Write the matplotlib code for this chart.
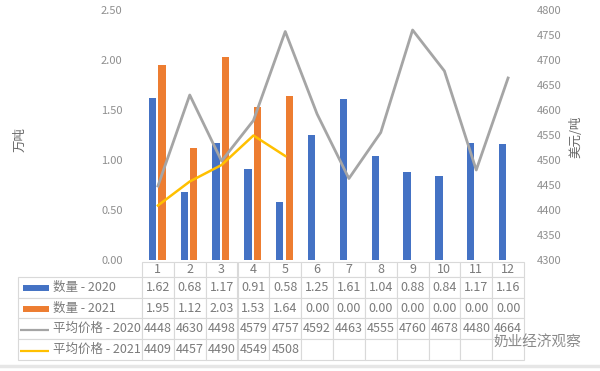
import matplotlib
matplotlib.use("Agg")
import matplotlib.pyplot as plt
from matplotlib.lines import Line2D

plt.rcParams["font.family"] = ["Noto Sans CJK SC", "DejaVu Sans"]

months = [str(m) for m in range(1, 13)]
qty_2020 = [1.62, 0.68, 1.17, 0.91, 0.58, 1.25, 1.61, 1.04, 0.88, 0.84, 1.17, 1.16]
qty_2021 = [1.95, 1.12, 2.03, 1.53, 1.64, 0.00, 0.00, 0.00, 0.00, 0.00, 0.00, 0.00]
price_2020 = [4448, 4630, 4498, 4579, 4757, 4592, 4463, 4555, 4760, 4678, 4480, 4664]
price_2021 = [4409, 4457, 4490, 4549, 4508]
series_names = ["数量 - 2020", "数量 - 2021", "平均价格 - 2020", "平均价格 - 2021"]

BLUE = "#4472C4"
ORANGE = "#ED7D31"
GREY = "#A5A5A5"
YELLOW = "#FFC000"
TXT = "#7a7a7a"
EDGE = "#d9d9d9"

W, H = 600, 371
fig = plt.figure(figsize=(6, 3.71), dpi=100)
ax = fig.add_axes([142 / W, 1 - 260 / H, 382 / W, 250 / H])
ax2 = ax.twinx()

x = list(range(len(months)))
ax.bar([i - 0.175 for i in x], qty_2020, width=0.23, color=BLUE)
ax.bar([i + 0.125 for i in x], qty_2021, width=0.23, color=ORANGE)
ax2.plot(x, price_2020, color=GREY, lw=2)
ax2.plot(x[:len(price_2021)], price_2021, color=YELLOW, lw=1.8)

ax.set_xlim(-0.5, len(months) - 0.5)
ax.set_ylim(0, 2.5)
ax.set_yticks([0, 0.5, 1.0, 1.5, 2.0, 2.5])
ax.set_yticklabels([f"{v:.2f}" for v in ax.get_yticks()])
ax2.set_ylim(4300, 4800)
ax2.set_yticks(range(4300, 4801, 50))
ax.set_xticks([])

for a in (ax, ax2):
    for s in a.spines.values():
        s.set_visible(False)
    a.tick_params(length=0, labelsize=8, labelcolor="#8f8f8f")
ax.tick_params(axis="y", pad=14)
ax2.tick_params(axis="y", pad=9)

fig.text(20 / W, 1 - 140 / H, "万吨", rotation=90, ha="center", va="center",
         fontsize=9, color="#666666")
fig.text(576 / W, 1 - 137 / H, "美元/吨", rotation=90, ha="center", va="center",
         fontsize=9, color="#666666")

# data table under the plot
cell_text = [
    [f"{v:.2f}" for v in qty_2020],
    [f"{v:.2f}" for v in qty_2021],
    [str(v) for v in price_2020],
    [str(v) for v in price_2021] + [""] * (len(months) - len(price_2021)),
]
label_w = 124 / 382
table = ax.table(cellText=cell_text, rowLabels=series_names, colLabels=months,
                 cellLoc="center", rowLoc="left",
                 bbox=[0, (260 - 360) / 250, 1, (362 - 262) / 250 - 0.008])
table._autoColumns = []  # keep the fixed label column width
table.auto_set_font_size(False)
table.set_fontsize(9)
for (r, c), cell in table.get_celld().items():
    cell.set_edgecolor(EDGE)
    cell.set_linewidth(0.8)
    cell.get_text().set_color(TXT)
    cell.set_height(15 if r == 0 else 21)
    if c == -1:
        cell.set_width(label_w)
        cell.PAD = (53 - 18) / 124
    else:
        cell.set_width(1 / 12)

# legend keys in row label cells
keys = [(BLUE, 4.3), (ORANGE, 4.3), (GREY, 1.6), (YELLOW, 1.6)]
for i, (col, lw) in enumerate(keys):
    yc = (260 - (277 + 21 * (i + 0.5))) / 250
    x0 = (23 - 142) / 382 if lw > 3 else (20 - 142) / 382
    ax.add_line(Line2D([x0, (49 - 142) / 382], [yc, yc], color=col, lw=lw,
                       solid_capstyle="butt", transform=ax.transAxes, clip_on=False))

fig.text(537 / W, 1 - 343 / H, "奶业经济观察", ha="center", va="center",
         fontsize=10.5, color="#8a8a8a")
fig.add_artist(Line2D([0, 1], [1 - 366 / H, 1 - 366 / H], color="#e6e6e6", lw=2.5,
                      transform=fig.transFigure))

fig.savefig("out.png", dpi=100)
